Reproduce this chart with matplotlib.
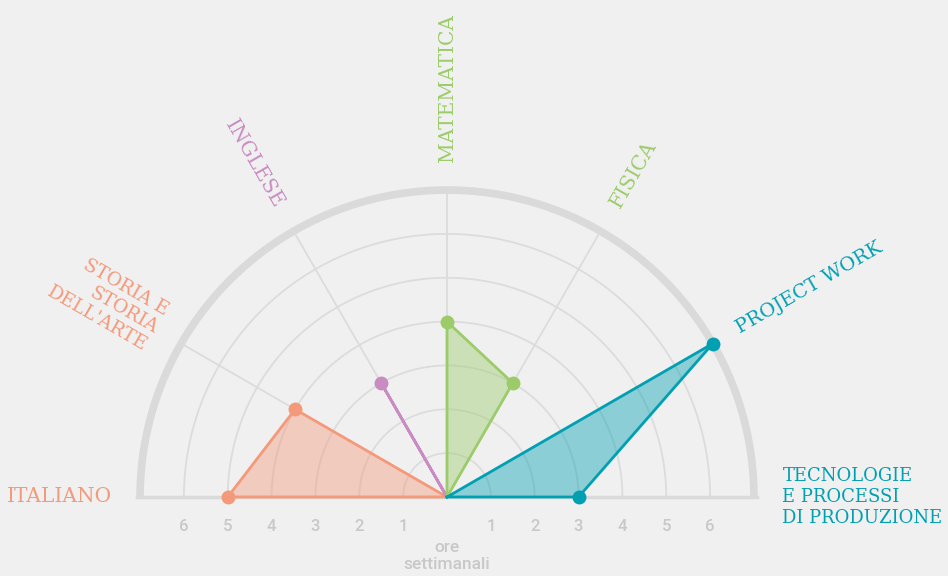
import numpy as np
import matplotlib.pyplot as plt

# subjects, angle of each spoke (degrees) and weekly hours
subjects = ["ITALIANO", "STORIA E\nSTORIA\nDELL'ARTE", "INGLESE", "MATEMATICA",
            "FISICA", "PROJECT WORK", "TECNOLOGIE\nE PROCESSI\nDI PRODUZIONE"]
angles = [180, 150, 120, 90, 60, 30, 0]
hours = [5, 4, 3, 4, 3, 7, 3]
groups = [[0, 1], [2], [3, 4], [5, 6]]
group_colors = ["#f4997a", "#c98cc2", "#9ccc6a", "#00a0b2"]
label_colors = ["#f4997a", "#f4997a", "#c98cc2", "#9ccc6a", "#9ccc6a", "#00a0b2", "#00a0b2"]
label_sizes = [14.5, 13.5, 14.5, 14.5, 14.5, 14, 13]
tick_values = [1, 2, 3, 4, 5, 6]

bg = "#f0f0f0"
grid_col = "#dcdcdc"
s = 43.85  # pixels per hour

fig = plt.figure(figsize=(9.48, 5.76), dpi=100, facecolor=bg)
ax = fig.add_axes([0, 0, 1, 1])
ax.set_facecolor(bg)
ax.set_xlim(-447 / s, 501 / s)
ax.set_ylim(-79 / s, 497 / s)
ax.axis("off")

t = np.linspace(0, np.pi, 300)
for r in tick_values:
    ax.plot(r * np.cos(t), r * np.sin(t), color=grid_col, lw=1.3, zorder=1)
ax.plot(7 * np.cos(t), 7 * np.sin(t), color="#dadada", lw=5.5, zorder=1,
        solid_capstyle="butt")
for a in angles[1:-1]:
    ax.plot([0, 7 * np.cos(np.radians(a))], [0, 7 * np.sin(np.radians(a))],
            color=grid_col, lw=1.3, zorder=1)
ax.plot([-7.06, 7.06], [0, 0], color="#dadada", lw=2.5, zorder=1)

# data
for g, col in zip(groups, group_colors):
    th = np.radians([angles[i] for i in g])
    rr = np.array([hours[i] for i in g])
    xs = rr * np.cos(th)
    ys = rr * np.sin(th)
    px = np.concatenate([[0], xs, [0]])
    py = np.concatenate([[0], ys, [0]])
    if len(g) > 1:
        ax.fill(px, py, color=col, alpha=0.42, lw=0, zorder=2)
    ax.plot(px, py, color=col, lw=2, zorder=3, solid_joinstyle="round")
    ax.plot(xs, ys, "o", color=col, ms=9, zorder=4)

# axis labels
R = 7.65
for lab, a, col, fs in zip(subjects, angles, label_colors, label_sizes):
    x = R * np.cos(np.radians(a))
    y = R * np.sin(np.radians(a))
    if a > 90:
        ha, rot = "right", a - 180
    else:
        ha, rot = "left", a
    ax.text(x, y, lab, color=col, fontsize=fs, family="DejaVu Serif",
            ha=ha, va="center", rotation=rot, rotation_mode="anchor",
            multialignment=ha, linespacing=1.2)

# hour ticks
for v in tick_values:
    for sign in (-1, 1):
        ax.text(sign * v, -0.68, str(v), color="#c8c8c8", fontsize=12,
                family="Roboto", fontweight="medium", ha="center", va="center")
ax.text(0, -1.35, "ore\nsettimanali", color="#c8c8c8", fontsize=12.5,
        family="Roboto", fontweight="medium", ha="center", va="center",
        linespacing=1.15)

fig.savefig("out.png", dpi=100, facecolor=bg)
